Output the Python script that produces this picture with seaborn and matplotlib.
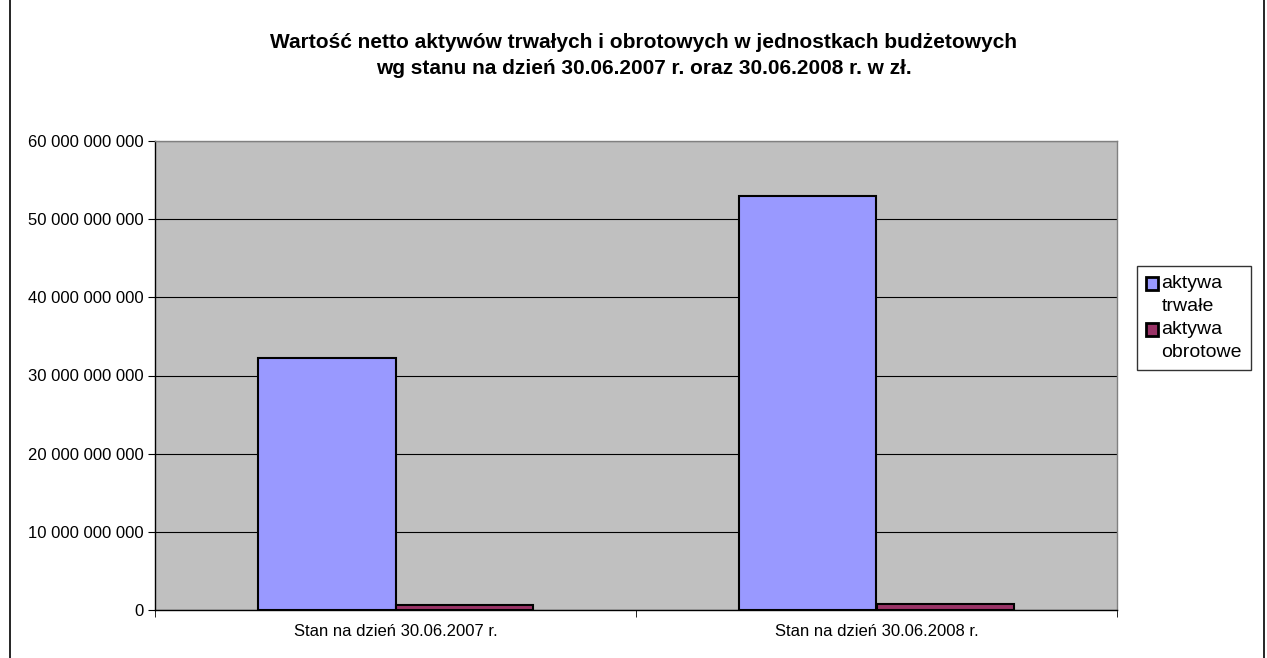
import pandas as pd
import seaborn as sns
import matplotlib.pyplot as plt
from matplotlib.ticker import FuncFormatter
from matplotlib.patches import Rectangle

# Data
categories = ['Stan na dzień 30.06.2007 r.', 'Stan na dzień 30.06.2008 r.']
series = ['aktywa\ntrwałe', 'aktywa\nobrotowe']
trwale = [32_200_000_000, 52_900_000_000]
obrotowe = [700_000_000, 800_000_000]

df = pd.DataFrame({
    'kategoria': categories * 2,
    'seria': [series[0]] * 2 + [series[1]] * 2,
    'wartosc': trwale + obrotowe,
})

sns.set_style('white')
plt.rcParams['font.family'] = ['Liberation Sans', 'DejaVu Sans']
plt.rcParams['text.color'] = 'black'
plt.rcParams['xtick.color'] = 'black'
plt.rcParams['ytick.color'] = 'black'

fig = plt.figure(figsize=(12.67, 6.58), dpi=100)
ax = fig.add_axes([155 / 1267, 1 - 610 / 658, (1117 - 155) / 1267, (610 - 141) / 658])

sns.barplot(data=df, x='kategoria', y='wartosc', hue='seria',
            palette=['#9999ff', '#993366'], saturation=1, width=0.57,
            edgecolor='black', linewidth=1.5, ax=ax, zorder=3)

ax.set_facecolor('#c0c0c0')
ax.set_ylim(0, 60_000_000_000)
ax.set_yticks(range(0, 60_000_000_001, 10_000_000_000))
ax.yaxis.set_major_formatter(FuncFormatter(lambda v, p: f'{int(v):,}'.replace(',', ' ')))
ax.grid(axis='y', color='black', linewidth=0.8, zorder=0)
ax.set_axisbelow(True)
ax.set_xlabel('')
ax.set_ylabel('')
ax.tick_params(axis='both', labelsize=12, length=5, direction='out', color='black', left=True)
ax.tick_params(axis='y', pad=3)
ax.tick_params(axis='x', length=0, pad=10)
for s in ax.spines.values():
    s.set_color('#808080')
    s.set_linewidth(1)
ax.spines['left'].set_color('black')
ax.spines['bottom'].set_color('black')
# category separators at the bottom
ax.set_xticks([0, 1], minor=False)
ax.set_xticks([-0.5, 0.5, 1.5], minor=True)
ax.tick_params(axis='x', which='minor', length=5, color='black', bottom=True)

leg = ax.legend(loc='center left', bbox_to_anchor=(1137 / 1267, 1 - 318 / 658),
                bbox_transform=fig.transFigure, frameon=True, fontsize=14,
                handlelength=0.65, handleheight=0.65, handletextpad=0.15,
                labelspacing=0.35, borderpad=0.45, borderaxespad=0, fancybox=False)
leg.get_frame().set_edgecolor('black')
leg.get_frame().set_linewidth(1)
for t in leg.get_texts():
    t.set_linespacing(1.45)
for h in leg.legend_handles:
    h.set_edgecolor('black')
    h.set_linewidth(2)
    # marker sits next to the first line of the label
    h.set_y(h.get_y() + 8)

fig.text(644 / 1267, 1 - 43 / 658, 'Wartość netto aktywów trwałych i obrotowych w jednostkach budżetowych',
         ha='center', va='center', fontsize=15, fontweight='bold')
fig.text(644 / 1267, 1 - 69 / 658, 'wg stanu na dzień 30.06.2007 r. oraz 30.06.2008 r. w zł.',
         ha='center', va='center', fontsize=15, fontweight='bold')

fig.patches.append(Rectangle((10 / 1267, -0.01), 1254 / 1267, 1.02, transform=fig.transFigure,
                             fill=False, edgecolor='black', linewidth=1.2))

fig.savefig('out.png', dpi=100)
